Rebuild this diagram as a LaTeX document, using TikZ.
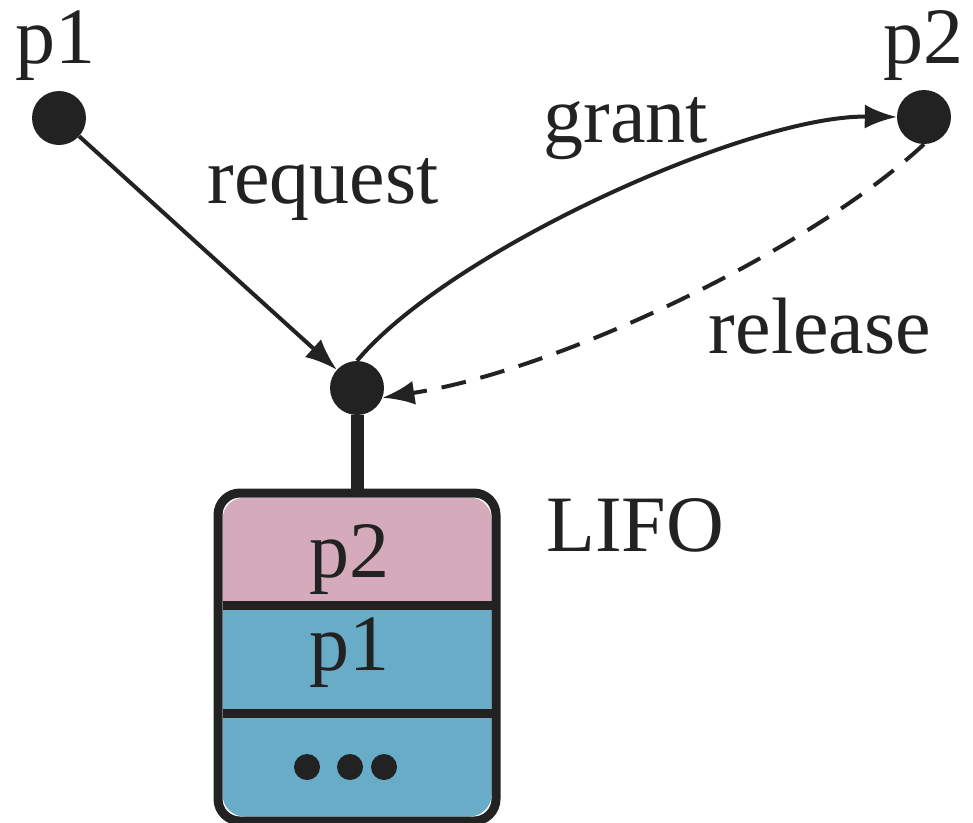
\documentclass[tikz,border=0pt]{standalone}
\usepackage{fontspec}
\setmainfont{Liberation Serif}
\usetikzlibrary{arrows.meta}
\definecolor{ink}{HTML}{222222}
\definecolor{cellpink}{HTML}{D5ABBB}
\definecolor{cellblue}{HTML}{68ACC7}
\tikzset{
  dot/.style={circle, fill=ink, inner sep=0pt, minimum size=54pt},
  lbl/.style={anchor=base, inner sep=0pt, text=ink, font=\fontsize{80}{96}\selectfont},
  link/.style={draw=ink, line width=4pt, -{Latex[length=32pt,width=24pt]}},
  dashlink/.style={link, dash pattern=on 25pt off 15pt},
  stem/.style={draw=ink, line width=13pt},
  frame/.style={draw=ink, line width=9pt},
  smalldot/.style={circle, fill=ink, inner sep=0pt, minimum size=26pt}
}
\begin{document}
\begin{tikzpicture}[x=1pt, y=-1pt]
  \useasboundingbox (0,0) rectangle (973,822);

  % resource nodes
  \node[dot] (p1) at (59,118) {};
  \node[dot] (p2) at (924,117) {};
  \node[dot] (res) at (357,388) {};

  \node[lbl] (p1lbl) at (55,63) {p1};
  \node[lbl] (p2lbl) at (923,63) {p2};

  % queue box
  \begin{scope}
    \clip[rounded corners=22pt] (222.5,497.5) rectangle (491.5,816.5);
    \fill[cellpink] (222.5,497.5) rectangle (491.5,605);
    \fill[cellblue] (222.5,605) rectangle (491.5,816.5);
  \end{scope}
  \node[frame, rounded corners=22pt, minimum width=278pt, minimum height=328pt, inner sep=0pt] (lifo) at (357,657) {};
  \coordinate (d1l) at (222.5,605);
  \coordinate (d1r) at (491.5,605);
  \coordinate (d2l) at (222.5,713);
  \coordinate (d2r) at (491.5,713);
  \draw[frame] (d1l) -- (d1r);
  \draw[frame] (d2l) -- (d2r);

  \node[lbl] (cell2) at (349,577) {p2};
  \node[lbl] (cell1) at (349,670) {p1};
  \node[smalldot] (e1) at (307,767) {};
  \node[smalldot] (e2) at (350,767) {};
  \node[smalldot] (e3) at (384,767) {};

  \node[lbl] (lifolbl) at (635,551) {LIFO};

  % stem from resource to queue
  \draw[stem] (res.south) -- (lifo.north);

  % connectors
  \draw[link] (p1) -- (res);
  \draw[link] (res.90) .. controls (450,250) and (750,115) .. (p2.180);
  \draw[dashlink] (p2.-90) .. controls (810,250) and (560,370) .. (res.-21);

  \node[lbl] (reqlbl) at (323,203) {request};
  \node[lbl] (grantlbl) at (626,142) {grant};
  \node[lbl] (rellbl) at (820,353) {release};
\end{tikzpicture}
\end{document}
